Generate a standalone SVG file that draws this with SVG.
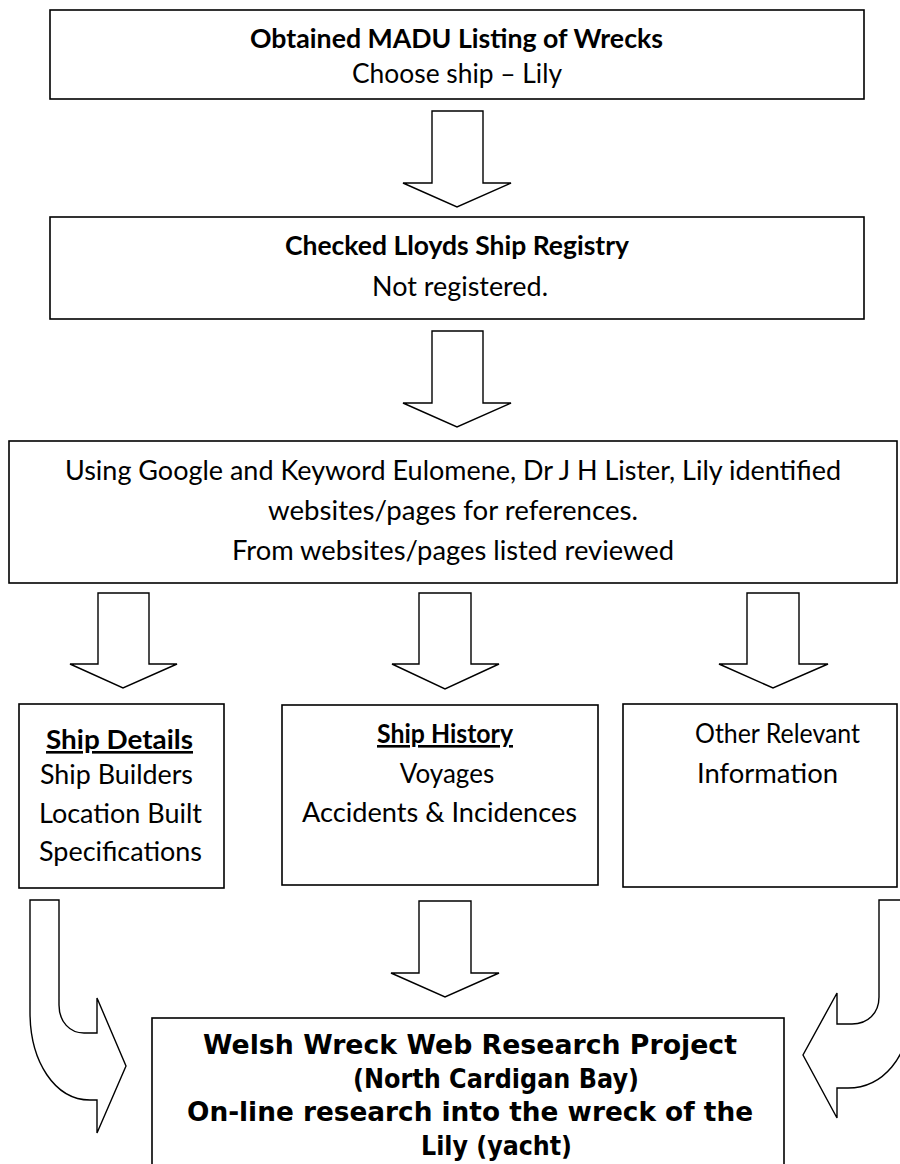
<svg xmlns="http://www.w3.org/2000/svg" width="900" height="1164" viewBox="0 0 900 1164">
<style>
.box{fill:#fff;stroke:#000;stroke-width:1.6}
.arr{fill:#fff;stroke:#000;stroke-width:1.4;stroke-linejoin:miter}
.t{font-family:Lato,"Open Sans","Liberation Sans",sans-serif;font-size:26px;fill:#000}
.b{font-weight:bold}
.v{font-family:"DejaVu Sans",Verdana,sans-serif;font-weight:bold;font-size:26px;fill:#000}
</style>
<rect width="900" height="1164" fill="#fff"/>
<g id="connectors">
<path class="arr" d="M432,111 L483,111 L483,183 L511,183 L457,207 L403,183 L432,183 Z"/>
<path class="arr" d="M432,331 L483,331 L483,403 L511,403 L457,427 L403,403 L432,403 Z"/>
<path class="arr" d="M98,593 L149,593 L149,664 L177,664 L123,688 L70,664 L98,664 Z"/>
<path class="arr" d="M419,593 L471,593 L471,664 L499,664 L445,689 L392,664 L419,664 Z"/>
<path class="arr" d="M747,593 L799,593 L799,664 L828,664 L773,688 L719,664 L747,664 Z"/>
<path class="arr" d="M419,901 L471,901 L471,973 L499,973 L445,997 L391,973 L419,973 Z"/>
<path class="arr" d="M30,900 L59,900 L59,1005 C59,1022 70,1033 84,1033 L97,1033 L97,998 L126,1066 L97,1133 L97,1100 L90,1100 C55,1100 30,1062 30,1012 Z"/>
<path class="arr" d="M879,900 L879,997 C879,1013 868,1024 852,1024 L837,1024 L837,993 L803,1055 L837,1118 L837,1088 L848,1088 C882,1088 910,1058 910,1010 L910,900 Z"/>
</g>
<g id="n1">
<rect class="box" x="50" y="10" width="814" height="89"/>
<text class="t b" x="250" y="48" textLength="413" lengthAdjust="spacingAndGlyphs">Obtained MADU Listing of Wrecks</text>
<text class="t" x="352" y="83" textLength="210" lengthAdjust="spacingAndGlyphs">Choose ship – Lily</text>
</g>
<g id="n2">
<rect class="box" x="50" y="217" width="814" height="102"/>
<text class="t b" x="285" y="255" textLength="344" lengthAdjust="spacingAndGlyphs">Checked Lloyds Ship Registry</text>
<text class="t" x="372" y="296" textLength="176" lengthAdjust="spacingAndGlyphs">Not registered.</text>
</g>
<g id="n3">
<rect class="box" x="9" y="441" width="888" height="142"/>
<text class="t" x="65" y="480" textLength="776" lengthAdjust="spacingAndGlyphs">Using Google and Keyword Eulomene, Dr J H Lister, Lily identified</text>
<text class="t" x="268" y="520" textLength="370" lengthAdjust="spacingAndGlyphs">websites/pages for references.</text>
<text class="t" x="232" y="560" textLength="442" lengthAdjust="spacingAndGlyphs">From websites/pages listed reviewed</text>
</g>
<g id="n4">
<rect class="box" x="19" y="704" width="205" height="184"/>
<text class="t b" x="46" y="749" textLength="147" lengthAdjust="spacingAndGlyphs" text-decoration="underline">Ship Details</text>
<text class="t" x="40" y="784" textLength="153" lengthAdjust="spacingAndGlyphs">Ship Builders</text>
<text class="t" x="39" y="823" textLength="163" lengthAdjust="spacingAndGlyphs">Location Built</text>
<text class="t" x="39" y="861" textLength="163" lengthAdjust="spacingAndGlyphs">Specifications</text>
</g>
<g id="n5">
<rect class="box" x="282" y="705" width="316" height="180"/>
<text class="t b" x="377" y="743" textLength="136" lengthAdjust="spacingAndGlyphs" text-decoration="underline">Ship History</text>
<text class="t" x="447" y="783" text-anchor="middle">Voyages</text>
<text class="t" x="302" y="822" textLength="275" lengthAdjust="spacingAndGlyphs">Accidents &amp; Incidences</text>
</g>
<g id="n6">
<rect class="box" x="623" y="704" width="274" height="183"/>
<text class="t" x="695" y="743" textLength="165" lengthAdjust="spacingAndGlyphs">Other Relevant</text>
<text class="t" x="697" y="783" textLength="141" lengthAdjust="spacingAndGlyphs">Information</text>
</g>
<g id="n7">
<rect class="box" x="152" y="1018" width="632" height="160"/>
<text class="v" x="203" y="1054" textLength="534" lengthAdjust="spacingAndGlyphs">Welsh Wreck Web Research Project</text>
<text class="v" x="353" y="1088" textLength="286" lengthAdjust="spacingAndGlyphs">(North Cardigan Bay)</text>
<text class="v" x="187" y="1121" textLength="566" lengthAdjust="spacingAndGlyphs">On-line research into the wreck of the</text>
<text class="v" x="421" y="1155" textLength="151" lengthAdjust="spacingAndGlyphs">Lily (yacht)</text>
</g>
</svg>
